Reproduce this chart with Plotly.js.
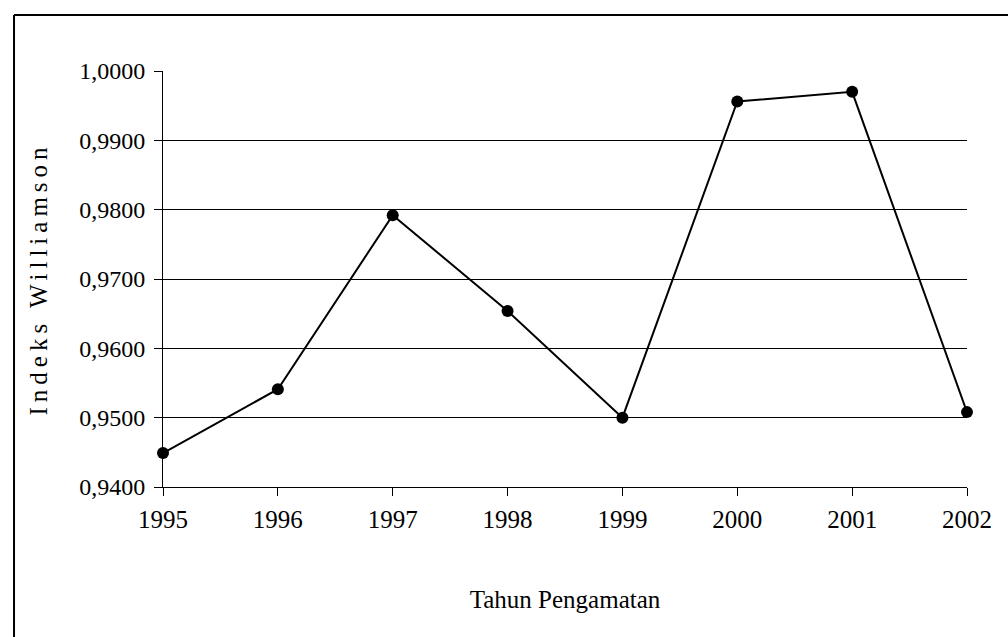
<!DOCTYPE html>
<html>
<head>
<meta charset="utf-8">
<script src="https://cdn.plot.ly/plotly-3.0.1.min.js"></script>
<style>
  html, body { margin: 0; padding: 0; background: #fff; }
  #chart { width: 1008px; height: 637px; }
  .ytitle { letter-spacing: 5px; }
</style>
</head>
<body>
<div id="chart"></div>
<script>
const years = ['1995', '1996', '1997', '1998', '1999', '2000', '2001', '2002'];
const indeksWilliamson = [0.9449, 0.9541, 0.9792, 0.9654, 0.9500, 0.9956, 0.9970, 0.9508];
const yTicks = [0.94, 0.95, 0.96, 0.97, 0.98, 0.99, 1.00];

const serif = "'Liberation Serif', 'Times New Roman', serif";

const trace = {
  x: years,
  y: indeksWilliamson,
  type: 'scatter',
  mode: 'lines+markers',
  line: { color: '#000', width: 2 },
  marker: { color: '#000', size: 12 },
  cliponaxis: false,
  hoverinfo: 'x+y'
};

const layout = {
  width: 1008,
  height: 637,
  margin: { l: 163, r: 41, t: 71, b: 150 },
  paper_bgcolor: '#fff',
  plot_bgcolor: '#fff',
  separators: ',.',
  showlegend: false,
  font: { family: serif, color: '#000', size: 24 },
  xaxis: {
    type: 'category',
    range: [0, years.length - 1],
    showgrid: false,
    zeroline: false,
    showline: true,
    linecolor: '#000',
    linewidth: 1,
    ticks: 'outside',
    ticklen: 8,
    tickcolor: '#000',
    ticklabelstandoff: 2,
    tickfont: { family: serif, size: 25, color: '#000' },
    title: { text: 'Tahun Pengamatan', font: { family: serif, size: 25, color: '#000' }, standoff: 58 }
  },
  yaxis: {
    range: [0.94, 1.0],
    tickvals: yTicks,
    tickformat: '.4f',
    showgrid: true,
    gridcolor: '#000',
    gridwidth: 1,
    zeroline: false,
    showline: true,
    linecolor: '#000',
    linewidth: 1,
    ticks: 'outside',
    ticklen: 8,
    tickcolor: '#000',
    ticklabelstandoff: 4,
    tickfont: { family: serif, size: 24, color: '#000' },
    title: { text: 'Indeks Williamson', font: { family: serif, size: 25, color: '#000' }, standoff: 24 }
  },
  shapes: [
    { type: 'line', xref: 'paper', yref: 'paper', x0: -0.1853, x1: 1.06, y0: 1.1346, y1: 1.1346, line: { color: '#000', width: 2 } },
    { type: 'line', xref: 'paper', yref: 'paper', x0: -0.1853, x1: -0.1853, y0: -0.37, y1: 1.1346, line: { color: '#000', width: 2 } }
  ]
};

Plotly.newPlot('chart', [trace], layout, { displayModeBar: false, staticPlot: true });
</script>
</body>
</html>
